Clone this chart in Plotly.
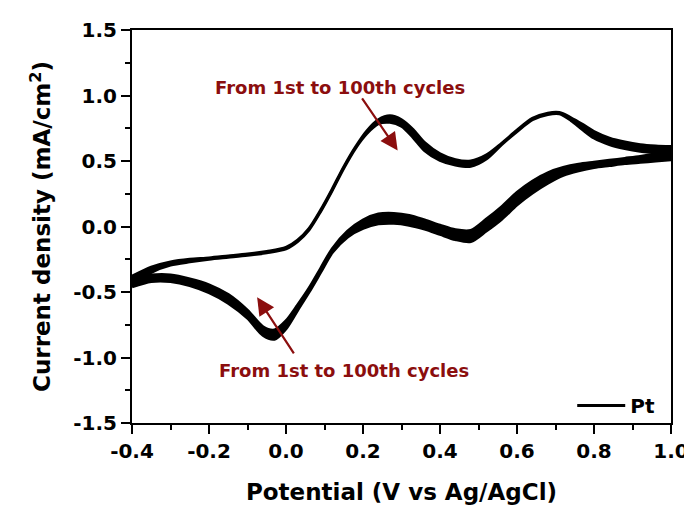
import plotly.graph_objects as go

# ---- data (anodic / forward scan) ----
fwd_x = [-0.4, -0.35, -0.3, -0.25, -0.2, -0.15, -0.1, -0.05, 0.0, 0.03, 0.06, 0.09,
         0.12, 0.15, 0.18, 0.21, 0.24, 0.27, 0.30, 0.33, 0.36, 0.40, 0.44, 0.48,
         0.52, 0.56, 0.60, 0.64, 0.68, 0.71, 0.74, 0.77, 0.80, 0.84, 0.88, 0.92, 0.96, 1.0]
fwd_cycle1 = [-0.38, -0.31, -0.27, -0.25, -0.24, -0.225, -0.21, -0.19, -0.16, -0.105, -0.015, 0.125,
              0.285, 0.455, 0.605, 0.73, 0.815, 0.845, 0.815, 0.74, 0.64, 0.555, 0.51, 0.50,
              0.545, 0.635, 0.735, 0.825, 0.865, 0.87, 0.83, 0.78, 0.725, 0.675, 0.645, 0.625, 0.615, 0.61]
fwd_cycle100 = [-0.45, -0.35, -0.295, -0.27, -0.25, -0.235, -0.22, -0.2, -0.17, -0.115, -0.025, 0.115,
                0.275, 0.445, 0.595, 0.71, 0.785, 0.795, 0.765, 0.68, 0.58, 0.505, 0.47, 0.46,
                0.515, 0.625, 0.725, 0.815, 0.855, 0.86, 0.81, 0.74, 0.675, 0.625, 0.595, 0.575, 0.565, 0.555]

# ---- cathodic / reverse scan ----
rev_x = [1.0, 0.96, 0.92, 0.88, 0.84, 0.80, 0.76, 0.72, 0.68, 0.64, 0.60, 0.56, 0.52, 0.48,
         0.44, 0.40, 0.36, 0.32, 0.28, 0.24, 0.20, 0.16, 0.12, 0.09, 0.06, 0.03, 0.0, -0.03,
         -0.06, -0.1, -0.15, -0.2, -0.25, -0.3, -0.35, -0.4]
rev_cycle100 = [0.58, 0.555, 0.535, 0.52, 0.505, 0.49, 0.475, 0.45, 0.41, 0.345, 0.26, 0.15, 0.055, -0.03,
                -0.025, 0.01, 0.05, 0.085, 0.1, 0.095, 0.05, -0.035, -0.17, -0.32, -0.47, -0.6, -0.72, -0.79,
                -0.765, -0.64, -0.52, -0.445, -0.4, -0.37, -0.37, -0.39]
rev_cycle1 = [0.51, 0.5, 0.49, 0.48, 0.465, 0.45, 0.425, 0.39, 0.33, 0.255, 0.165, 0.055, -0.035, -0.115,
              -0.1, -0.06, -0.02, 0.01, 0.025, 0.02, -0.015, -0.08, -0.2, -0.35, -0.5, -0.64, -0.78, -0.86,
              -0.83, -0.7, -0.585, -0.505, -0.45, -0.42, -0.42, -0.46]

x_tickvals = [-0.4, -0.2, 0.0, 0.2, 0.4, 0.6, 0.8, 1.0]
x_ticktext = ["-0.4", "-0.2", "0.0", "0.2", "0.4", "0.6", "0.8", "1.0"]
y_tickvals = [-1.5, -1.0, -0.5, 0.0, 0.5, 1.0, 1.5]
y_ticktext = ["-1.5", "-1.0", "-0.5", "0.0", "0.5", "1.0", "1.5"]

note_text = "From 1st to 100th cycles"
RED = "#8b0e0e"
FONT = "DejaVu Sans"

fig = go.Figure()
line = dict(color="black", width=3, shape="spline", smoothing=0.8)
fig.add_trace(go.Scatter(x=fwd_x, y=fwd_cycle1, mode="lines", line=line, showlegend=False))
fig.add_trace(go.Scatter(x=fwd_x, y=fwd_cycle100, mode="lines", line=line, fill="tonexty",
                         fillcolor="black", showlegend=False))
fig.add_trace(go.Scatter(x=rev_x, y=rev_cycle100, mode="lines", line=line, name="Pt",
                         showlegend=True))
fig.add_trace(go.Scatter(x=rev_x, y=rev_cycle1, mode="lines", line=line, fill="tonexty",
                         fillcolor="black", showlegend=False))

# arrows
fig.add_annotation(x=0.29, y=0.58, ax=0.195, ay=0.99, xref="x", yref="y", axref="x", ayref="y",
                   text="", showarrow=True, arrowhead=2, arrowsize=1.6, arrowwidth=2.2, arrowcolor=RED)
fig.add_annotation(x=-0.075, y=-0.54, ax=0.023, ay=-0.98, xref="x", yref="y", axref="x", ayref="y",
                   text="", showarrow=True, arrowhead=2, arrowsize=1.6, arrowwidth=2.2, arrowcolor=RED)
fig.add_annotation(x=0.14, y=1.06, xref="x", yref="y", text=note_text, showarrow=False,
                   font=dict(family=FONT, size=18, color=RED, weight="bold"))
fig.add_annotation(x=0.15, y=-1.1, xref="x", yref="y", text=note_text, showarrow=False,
                   font=dict(family=FONT, size=18, color=RED, weight="bold"))

axis_common = dict(showgrid=False, zeroline=False, showline=True, linewidth=2, linecolor="black",
                   mirror=True, ticks="outside", ticklen=9, tickwidth=2, tickcolor="black",
                   automargin=False,
                   tickfont=dict(family=FONT, size=20, color="black", weight="bold"))
fig.update_xaxes(range=[-0.4, 1.0], tickvals=x_tickvals, ticktext=x_ticktext,
                 minor=dict(dtick=0.1, ticks="outside", ticklen=5, tickwidth=2, tickcolor="black"),
                 title=dict(text="Potential (V vs Ag/AgCl)", standoff=22,
                            font=dict(family=FONT, size=23, color="black", weight="bold")),
                 **axis_common)
fig.update_yaxes(range=[-1.5, 1.5], tickvals=y_tickvals, ticktext=y_ticktext,
                 minor=dict(dtick=0.25, ticks="outside", ticklen=5, tickwidth=2, tickcolor="black"),
                 title=dict(text="Current density (mA/cm<sup>2</sup>)", standoff=16,
                            font=dict(family=FONT, size=23, color="black", weight="bold")),
                 **axis_common)

# the page places the figure 8 px in from the top-left corner, so margins compensate
fig.update_layout(width=692, height=512, margin=dict(l=124, r=29, t=22, b=97),
                  plot_bgcolor="white", paper_bgcolor="white",
                  legend=dict(x=0.98, y=-0.005, xanchor="right", yanchor="bottom",
                              bgcolor="rgba(0,0,0,0)", itemwidth=48,
                              font=dict(family=FONT, size=20, color="black", weight="bold")))

fig.write_html("out.html")
